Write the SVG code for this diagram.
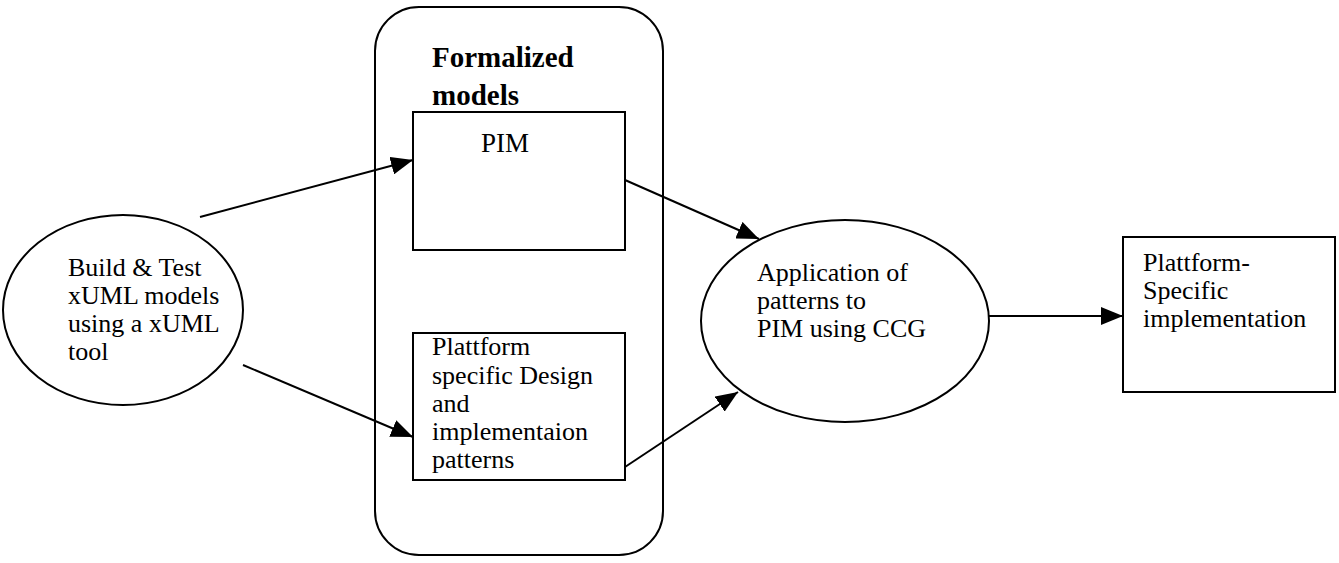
<svg xmlns="http://www.w3.org/2000/svg" width="1339" height="563" viewBox="0 0 1339 563">
<style>
.s{fill:none;stroke:#000;stroke-width:2}
.t{font-family:"Liberation Serif","Times New Roman",serif;font-size:26px;fill:#000}
.b{font-family:"Liberation Serif","Times New Roman",serif;font-size:29px;font-weight:bold;fill:#000}
.c{fill:none;stroke:#000;stroke-width:2}
</style>
<defs>
<marker id="ah" markerUnits="userSpaceOnUse" markerWidth="22" markerHeight="18" refX="22" refY="9" orient="auto">
<path d="M0,0 L22,9 L0,18 z" fill="#000"/>
</marker>
</defs>
<rect width="1339" height="563" fill="#fff"/>
<g id="formalized">
<rect class="s" x="375" y="7" width="288" height="548" rx="44" ry="44"/>
<text class="b" x="432" y="67">Formalized</text>
<text class="b" x="432" y="105">models</text>
</g>
<g id="build">
<ellipse class="s" cx="123" cy="310" rx="120" ry="95"/>
<text class="t" x="68" y="276">Build &amp; Test</text>
<text class="t" x="68" y="304">xUML models</text>
<text class="t" x="68" y="332">using a xUML</text>
<text class="t" x="68" y="360">tool</text>
</g>
<g id="pim">
<rect class="s" x="413" y="112" width="212" height="138"/>
<text class="t" x="481" y="152" style="font-size:27px">PIM</text>
</g>
<g id="patterns">
<rect class="s" x="413" y="333" width="212" height="147"/>
<text class="t" x="432" y="355">Plattform</text>
<text class="t" x="432" y="384">specific Design</text>
<text class="t" x="432" y="412">and</text>
<text class="t" x="432" y="440">implementaion</text>
<text class="t" x="432" y="468">patterns</text>
</g>
<g id="application">
<ellipse class="s" cx="845" cy="321" rx="144" ry="101"/>
<text class="t" x="757" y="281">Application of</text>
<text class="t" x="757" y="309">patterns to</text>
<text class="t" x="757" y="337">PIM using CCG</text>
</g>
<g id="implementation">
<rect class="s" x="1123" y="237" width="212" height="155"/>
<text class="t" x="1143" y="271">Plattform-</text>
<text class="t" x="1143" y="299">Specific</text>
<text class="t" x="1143" y="327">implementation</text>
</g>
<g id="connectors">
<line class="c" x1="200" y1="217" x2="413" y2="160" marker-end="url(#ah)"/>
<line class="c" x1="243" y1="365" x2="413" y2="437" marker-end="url(#ah)"/>
<line class="c" x1="625" y1="180" x2="759" y2="239" marker-end="url(#ah)"/>
<line class="c" x1="625" y1="467" x2="738" y2="392" marker-end="url(#ah)"/>
<line class="c" x1="989" y1="316" x2="1123" y2="316" marker-end="url(#ah)"/>
</g>
</svg>
